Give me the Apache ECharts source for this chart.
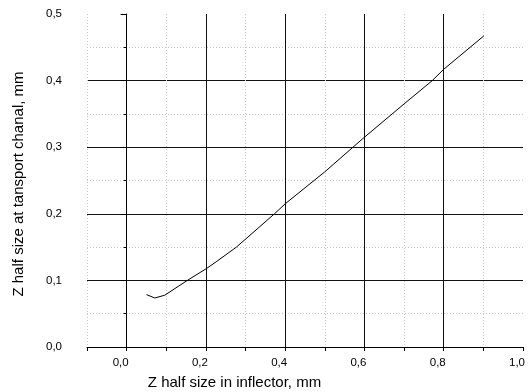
<!DOCTYPE html>
<html>
<head>
<meta charset="utf-8">
<script src="https://cdn.jsdelivr.net/npm/echarts@6/dist/echarts.min.js"></script>
<style>html,body{margin:0;padding:0;background:#fff}#c{width:529px;height:392px}</style>
</head>
<body>
<div id="c"></div>
<script>
const xValues = [0.050, 0.071, 0.096, 0.155, 0.202, 0.226, 0.277, 0.373, 0.401, 0.500, 0.596, 0.700, 0.771, 0.800, 0.901];
const yValues = [0.0787, 0.0736, 0.0777, 0.1007, 0.118, 0.128, 0.150, 0.200, 0.2155, 0.263, 0.313, 0.365, 0.400, 0.417, 0.467];
const xTitle = 'Z half size in inflector, mm';
const yTitle = 'Z half size at tansport chanal, mm';

const font = 'Liberation Sans, Arial, sans-serif';
const fmt = v => v.toFixed(1).replace('.', ',');

const chart = echarts.init(document.getElementById('c'));
chart.setOption({
  animation: false,
  grid: { left: 87, right: 6, top: 14, bottom: 45, containLabel: false, outerBoundsMode: 'none' },
  xAxis: [{
    type: 'value', min: -0.1, max: 1.0, interval: 0.1,
    name: xTitle, nameLocation: 'middle', nameGap: 28,
    nameTextStyle: { fontFamily: font, fontSize: 15, color: '#000', padding: [0, 141, 0, 0] },
    axisLine: { show: true, onZero: false, lineStyle: { color: '#000', width: 1 } },
    axisTick: { show: true, length: 4, lineStyle: { color: '#000' } },
    axisLabel: {
      margin: 10, fontFamily: font, fontSize: 11.5, color: '#000', padding: [0, 12, 0, 0],
      formatter: v => (Math.round(v * 10) % 2 === 0 ? fmt(v) : '')
    },
    splitLine: { show: true, showMaxLine: false,
      lineStyle: { color: ['#c8c8c8', 'rgba(0,0,0,0)'], type: [1, 2], width: 1 } }
  }, {
    type: 'value', min: -0.1, max: 1.0, interval: 0.1, position: 'bottom',
    axisLine: { show: false }, axisTick: { show: false }, axisLabel: { show: false },
    splitLine: { show: true, showMaxLine: false,
      lineStyle: { color: ['rgba(0,0,0,0)', '#111'], type: 'solid', width: 1 } }
  }],
  yAxis: {
    type: 'value', min: 0, max: 0.5, interval: 0.1,
    name: yTitle, nameLocation: 'middle', nameGap: 61,
    nameTextStyle: { fontFamily: font, fontSize: 15, color: '#000', padding: [0, 7, 0, 0] },
    axisLine: { show: true, lineStyle: { color: '#000', width: 1 } },
    axisTick: { show: true, length: 6, lineStyle: { color: '#000' } },
    minorTick: { show: true, splitNumber: 2, length: 3, lineStyle: { color: '#000' } },
    axisLabel: { margin: 25, fontFamily: font, fontSize: 11.5, color: '#000', formatter: v => fmt(v) },
    splitLine: { show: true, showMaxLine: false, lineStyle: { color: '#111', width: 1 } },
    minorSplitLine: { show: true, lineStyle: { color: '#c8c8c8', type: [1, 2], width: 1 } }
  },
  series: [{
    type: 'line',
    data: xValues.map((x, i) => [x, yValues[i]]),
    showSymbol: false, symbol: 'none',
    lineStyle: { color: '#000', width: 1 },
    z: 5
  }]
});
</script>
</body>
</html>
